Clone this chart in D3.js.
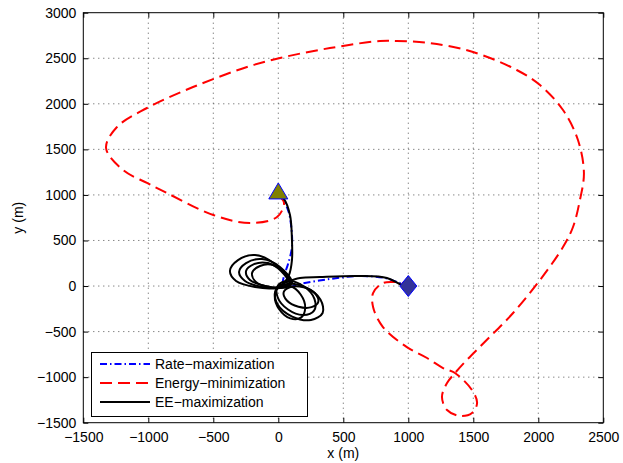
<!DOCTYPE html>
<html>
<head>
<meta charset="utf-8">
<script src="https://cdn.jsdelivr.net/npm/d3@7"></script>
<style>
  body { margin: 0; background: #fff; }
  text { font-family: "Liberation Sans", Arial, sans-serif; fill: #000; }
</style>
</head>
<body>
<script>
// tick values
var xTicks = [-1500, -1000, -500, 0, 500, 1000, 1500, 2000, 2500];
var yTicks = [-1500, -1000, -500, 0, 500, 1000, 1500, 2000, 2500, 3000];

// start / end points
var startPt = [0, 1000];
var endPt = [1000, 0];

// Rate-maximization trajectory (blue dash-dot)
var rateX = [0, 21, 75, 98, 105, 75, 44, 36, 75, 167, 397, 628, 820, 936, 1000];
var rateY = [1000, 977, 834, 670, 428, 241, 110, 22, -11, 22, 77, 110, 88, 33, 0];

// Energy-minimization trajectory (red dashed)
var energyX = [0, 44, -10, -217, -500, -857, -1010, -1194, -1325, -1241, -1010, -656, -241, 13, 397, 782, 912,
  1167, 1498, 1834, 2013, 2190, 2305, 2351, 2320, 2267, 2190, 2013, 1806, 1603, 1450, 1359, 1298, 1259, 1298,
  1398, 1490, 1529, 1490, 1359, 1267, 1144, 989, 805, 729, 729, 800, 882, 960, 1000];
var energyY = [1000, 912, 757, 692, 779, 1021, 1131, 1273, 1515, 1745, 1954, 2184, 2404, 2503, 2612, 2690, 2690,
  2667, 2569, 2371, 2206, 1932, 1603, 1240, 944, 648, 428, 66, -296, -593, -812, -955, -1065, -1218, -1361,
  -1427, -1394, -1284, -1142, -955, -900, -790, -670, -450, -230, -77, 30, 44, 33, 0];

// EE-maximization trajectory (black solid): descent, loops around the centre, exit
var eeDescentX = [0, 44, 90, 105, 105, 82, 36, 0];
var eeDescentY = [1000, 955, 779, 505, 285, 121, 22, -11];
var eeExitX = [0, 60, 167, 320, 628, 836, 951, 1000];
var eeExitY = [0, 40, 88, 99, 110, 88, 11, 0];

// loops upper-left of the centre
var loopUL1X = [90, -25, -179, -310, -372, -325, -179, -25];
var loopUL1Y = [44, 241, 340, 285, 165, 55, -11, -22];
var loopUL2X = [105, 13, -125, -248, -302, -256, -125, 13];
var loopUL2Y = [33, 209, 296, 252, 154, 55, -11, -22];
var loopUL3X = [90, 21, -79, -187, -248, -218, -102, 13];
var loopUL3Y = [11, 165, 252, 241, 165, 66, 0, -22];
var loopUL4X = [90, 44, -41, -141, -202, -172, -64, 28];
var loopUL4Y = [22, 154, 231, 220, 143, 44, -11, -11];
// loops lower-right of the centre
var loopLR1X = [341, 251, 107, -5, -22, 68, 212, 324];
var loopLR1Y = [-296, -373, -335, -203, -55, 22, -16, -148];
var loopLR2X = [275, 191, 75, -5, -2, 82, 198, 278];
var loopLR2Y = [-270, -318, -258, -123, 7, 55, -5, -141];
var loopLR3X = [174, 92, 8, -27, 6, 88, 172, 207];
var loopLR3Y = [-347, -355, -258, -113, -4, 3, -93, -238];
var loopLR4X = [308, 255, 155, 66, 41, 94, 195, 283];
var loopLR4Y = [-172, -232, -227, -159, -69, -10, -14, -82];

var legendNames = ["Rate\u2212maximization", "Energy\u2212minimization", "EE\u2212maximization"];

var W = 623, H = 463;
var svg = d3.select("body").append("svg")
  .attr("width", W)
  .attr("height", H);

var x = d3.scaleLinear().domain([-1500, 2500]).range([83.3, 603.3]);
var y = d3.scaleLinear().domain([-1500, 3000]).range([422.7, 12.7]);

function zip(xs, ys) {
  return xs.map(function(v, i) { return [v, ys[i]]; });
}

var loops = [
  zip(loopUL1X, loopUL1Y), zip(loopUL2X, loopUL2Y), zip(loopUL3X, loopUL3Y), zip(loopUL4X, loopUL4Y),
  zip(loopLR1X, loopLR1Y), zip(loopLR2X, loopLR2Y), zip(loopLR3X, loopLR3Y), zip(loopLR4X, loopLR4Y)
];

// grid
var grid = svg.append("g").attr("class", "grid");
grid.selectAll("line.vx")
  .data(xTicks.slice(1, -1))
  .enter().append("line")
  .attr("x1", function(d) { return x(d); })
  .attr("x2", function(d) { return x(d); })
  .attr("y1", y(3000))
  .attr("y2", y(-1500))
  .attr("stroke", "#555")
  .attr("stroke-dasharray", "1,4");
grid.selectAll("line.hy")
  .data(yTicks.slice(1, -1))
  .enter().append("line")
  .attr("y1", function(d) { return y(d); })
  .attr("y2", function(d) { return y(d); })
  .attr("x1", x(-1500))
  .attr("x2", x(2500))
  .attr("stroke", "#555")
  .attr("stroke-dasharray", "1,4");

var line = d3.line()
  .x(function(d) { return x(d[0]); })
  .y(function(d) { return y(d[1]); })
  .curve(d3.curveCatmullRom.alpha(0.5));

var ring = d3.line()
  .x(function(d) { return x(d[0]); })
  .y(function(d) { return y(d[1]); })
  .curve(d3.curveCatmullRomClosed.alpha(0.5));

svg.append("path")
  .datum(zip(rateX, rateY))
  .attr("d", line)
  .attr("fill", "none")
  .attr("stroke", "#0000ff")
  .attr("stroke-width", 2)
  .attr("stroke-dasharray", "7,3,1.5,3");

svg.append("path")
  .datum(zip(energyX, energyY))
  .attr("d", line)
  .attr("fill", "none")
  .attr("stroke", "#ff0000")
  .attr("stroke-width", 2)
  .attr("stroke-dasharray", "12,6");

var ee = svg.append("g").attr("class", "ee");
ee.append("path")
  .datum(zip(eeDescentX, eeDescentY))
  .attr("d", line);
ee.selectAll("path.loop")
  .data(loops)
  .enter().append("path")
  .attr("class", "loop")
  .attr("d", ring);
ee.append("path")
  .datum(zip(eeExitX, eeExitY))
  .attr("d", line);
ee.selectAll("path")
  .attr("fill", "none")
  .attr("stroke", "#000")
  .attr("stroke-width", 2);

// markers
svg.append("path")
  .attr("d", "M0,-9 L9.5,7 L-9.5,7 Z")
  .attr("transform", "translate(" + x(startPt[0]) + "," + (y(startPt[1]) - 3) + ")")
  .attr("fill", "#808000")
  .attr("stroke", "#0000ff")
  .attr("stroke-width", 1);

svg.append("path")
  .attr("d", "M0,-10.5 L8.5,0 L0,10.5 L-8.5,0 Z")
  .attr("transform", "translate(" + x(endPt[0]) + "," + y(endPt[1]) + ")")
  .attr("fill", "#333399")
  .attr("stroke", "#0000ff")
  .attr("stroke-width", 1);

// axes box with inward ticks
var axX0 = x(-1500), axX1 = x(2500), axY0 = y(3000), axY1 = y(-1500);
svg.append("rect")
  .attr("x", axX0).attr("y", axY0)
  .attr("width", axX1 - axX0).attr("height", axY1 - axY0)
  .attr("fill", "none").attr("stroke", "#000").attr("stroke-width", 1);

var xAxisB = d3.axisBottom(x).tickValues(xTicks).tickSizeInner(-5).tickSizeOuter(0).tickPadding(9);
svg.append("g")
  .attr("transform", "translate(0," + axY1 + ")")
  .call(xAxisB)
  .call(function(g) {
    g.select(".domain").remove();
    g.selectAll("text").style("font-size", "14px").style("font-family", "Liberation Sans, Arial, sans-serif")
      .text(function(d) { return d < 0 ? "\u2212" + Math.abs(d) : d; });
  });
var xAxisT = d3.axisTop(x).tickValues(xTicks).tickSizeInner(-5).tickSizeOuter(0).tickFormat("");
svg.append("g")
  .attr("transform", "translate(0," + axY0 + ")")
  .call(xAxisT)
  .call(function(g) { g.select(".domain").remove(); });

var yAxisL = d3.axisLeft(y).tickValues(yTicks).tickSizeInner(-5).tickSizeOuter(0).tickPadding(7);
svg.append("g")
  .attr("transform", "translate(" + axX0 + ",0)")
  .call(yAxisL)
  .call(function(g) {
    g.select(".domain").remove();
    g.selectAll("text").style("font-size", "14px").style("font-family", "Liberation Sans, Arial, sans-serif")
      .text(function(d) { return d < 0 ? "\u2212" + Math.abs(d) : d; });
  });
var yAxisR = d3.axisRight(y).tickValues(yTicks).tickSizeInner(-5).tickSizeOuter(0).tickFormat("");
svg.append("g")
  .attr("transform", "translate(" + axX1 + ",0)")
  .call(yAxisR)
  .call(function(g) { g.select(".domain").remove(); });

// axis labels
svg.append("text")
  .attr("x", (axX0 + axX1) / 2)
  .attr("y", 458)
  .attr("text-anchor", "middle")
  .style("font-size", "14px")
  .text("x (m)");

svg.append("text")
  .attr("transform", "translate(23," + ((axY0 + axY1) / 2) + ") rotate(-90)")
  .attr("text-anchor", "middle")
  .style("font-size", "14px")
  .text("y (m)");

// legend
var legend = svg.append("g").attr("class", "legend");
legend.append("rect")
  .attr("x", 91.5).attr("y", 352.5)
  .attr("width", 216).attr("height", 64)
  .attr("fill", "#fff").attr("stroke", "#000").attr("stroke-width", 1);

var legendStyles = [
  { color: "#0000ff", dash: "7,3,1.5,3" },
  { color: "#ff0000", dash: "12,6" },
  { color: "#000", dash: null }
];
legendNames.forEach(function(name, i) {
  var ly = 364 + i * 19;
  legend.append("line")
    .attr("x1", 100).attr("x2", 150)
    .attr("y1", ly).attr("y2", ly)
    .attr("stroke", legendStyles[i].color)
    .attr("stroke-width", 2)
    .attr("stroke-dasharray", legendStyles[i].dash);
  legend.append("text")
    .attr("x", 155)
    .attr("y", ly + 5)
    .style("font-size", "14px")
    .text(name);
});
</script>
</body>
</html>
